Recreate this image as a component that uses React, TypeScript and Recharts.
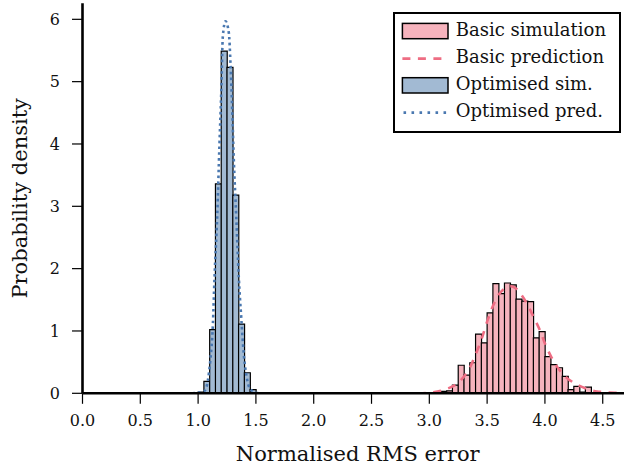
import React from 'react';
import { ComposedChart, Bar, Line, XAxis, YAxis, Legend } from 'recharts';

// Histogram bins (centres) and densities
const optBinCenters = [1.025, 1.075, 1.125, 1.175, 1.225, 1.275, 1.325, 1.375, 1.425, 1.475];
const optDensity = [0.02, 0.19, 1.02, 3.36, 5.49, 5.23, 3.18, 1.11, 0.33, 0.06];

const basicBinCenters = [
  3.075, 3.125, 3.175, 3.225, 3.275, 3.325, 3.375, 3.425, 3.475, 3.525,
  3.575, 3.625, 3.675, 3.725, 3.775, 3.825, 3.875, 3.925, 3.975, 4.025,
  4.075, 4.125, 4.175, 4.225, 4.275, 4.325, 4.375,
];
const basicDensity = [
  0.01, 0.03, 0.04, 0.13, 0.45, 0.29, 0.49, 0.95, 0.81, 1.29,
  1.76, 1.6, 1.77, 1.74, 1.51, 1.48, 1.47, 0.89, 0.99, 0.59,
  0.46, 0.41, 0.27, 0.06, 0.11, 0.02, 0.1,
];

// Predicted densities
const optPredX = [0.95, 1.0, 1.055, 1.084, 1.105, 1.128, 1.142, 1.165, 1.185, 1.2, 1.214, 1.237, 1.266, 1.28, 1.295, 1.309, 1.33, 1.352, 1.373, 1.395, 1.421, 1.45, 1.5, 1.55];
const optPredY = [0.0, 0.01, 0.04, 0.2, 0.52, 1.11, 1.86, 2.83, 4.01, 4.82, 5.73, 5.97, 5.78, 5.3, 4.55, 3.74, 2.83, 1.86, 1.22, 0.63, 0.25, 0.07, 0.01, 0.0];

const basicPredX = [2.9, 3.0, 3.1, 3.15, 3.2, 3.25, 3.3, 3.35, 3.4, 3.45, 3.5, 3.55, 3.6, 3.65, 3.7, 3.75, 3.8, 3.85, 3.9, 3.95, 4.0, 4.05, 4.1, 4.15, 4.2, 4.25, 4.3, 4.35, 4.4, 4.45, 4.5, 4.6, 4.68];
const basicPredY = [0.0, 0.01, 0.04, 0.07, 0.11, 0.17, 0.27, 0.41, 0.62, 0.86, 1.15, 1.4, 1.58, 1.68, 1.72, 1.68, 1.57, 1.42, 1.23, 1.04, 0.8, 0.6, 0.44, 0.32, 0.23, 0.17, 0.12, 0.08, 0.05, 0.03, 0.02, 0.01, 0.0];

const xTicks = [0, 0.5, 1.0, 1.5, 2.0, 2.5, 3.0, 3.5, 4.0, 4.5];
const yTicks = [0, 1, 2, 3, 4, 5, 6];

const legendLabels = ['Basic simulation', 'Basic prediction', 'Optimised sim.', 'Optimised pred.'];

const histRows = [
  ...optBinCenters.map((x, i) => ({ x, opt: optDensity[i], basic: null as number | null })),
  ...basicBinCenters.map((x, i) => ({ x, opt: null as number | null, basic: basicDensity[i] })),
];
const optPredRows = optPredX.map((x, i) => ({ x, y: optPredY[i] }));
const basicPredRows = basicPredX.map((x, i) => ({ x, y: basicPredY[i] }));

const X_DOMAIN: [number, number] = [0, 4.684];
const FONT = 'DejaVu Serif';
const PINK = '#F6B3BD';
const PINK_LINE = '#EE6D83';
const BLUE = '#A2BAD3';
const BLUE_LINE = '#4A78B0';

const renderLegend = () => {
  const rows = [19, 46.6, 73.3, 100.6];
  return (
    <svg width={228} height={121} style={{ display: 'block' }}>
      <rect x={1} y={1} width={226} height={119} fill="#fff" stroke="#000" strokeWidth={2} />
      <rect x={9.4} y={rows[0] - 7.6} width={45.6} height={15.3} fill={PINK} stroke="#000" strokeWidth={1.5} />
      <line x1={9.4} x2={55} y1={rows[1]} y2={rows[1]} stroke={PINK_LINE} strokeWidth={2.6} strokeDasharray="8 7.5" />
      <rect x={9.4} y={rows[2] - 7.6} width={45.6} height={15.3} fill={BLUE} stroke="#000" strokeWidth={1.5} />
      <line x1={10.5} x2={55} y1={rows[3]} y2={rows[3]} stroke={BLUE_LINE} strokeWidth={2.6} strokeDasharray="2.6 5.4" />
      {legendLabels.map((t, i) => (
        <text key={t} x={62.7} y={rows[i] + 4.5} fontFamily={FONT} fontSize={18} fill="#111">
          {t}
        </text>
      ))}
    </svg>
  );
};

const XLabel = (props: any) => {
  const vb = props.viewBox || { x: 82.5, y: 393.3, width: 541.5, height: 72.7 };
  return (
    <text x={vb.x + vb.width / 2 + 4.5} y={461} textAnchor="middle" fontFamily={FONT} fontSize={21} fill="#111">
      Normalised RMS error
    </text>
  );
};

const YLabel = (props: any) => {
  const vb = props.viewBox || { x: 0, y: 3.3, width: 82.5, height: 390 };
  const x = 27;
  const y = vb.y + vb.height / 2;
  return (
    <text x={x} y={y} transform={`rotate(-90, ${x}, ${y})`} textAnchor="middle" fontFamily={FONT} fontSize={21} fill="#111">
      Probability density
    </text>
  );
};

export default function App() {
  return (
    <div style={{ position: 'absolute', left: 0, top: 0, width: 624, height: 466, background: '#fff' }}>
      <ComposedChart
        width={624}
        height={466}
        data={histRows}
        margin={{ top: 3.3, right: 0, bottom: 0, left: 0 }}
        barCategoryGap={0}
        barGap={0}
      >
        <XAxis
          xAxisId="hist"
          type="number"
          dataKey="x"
          domain={X_DOMAIN}
          allowDataOverflow
          height={0}
          hide
        />
        <XAxis
          xAxisId="main"
          type="number"
          dataKey="x"
          domain={X_DOMAIN}
          allowDataOverflow
          ticks={xTicks}
          interval={0}
          tickFormatter={(v: number) => v.toFixed(1)}
          height={72.7}
          tickSize={10.5}
          tickMargin={11}
          tick={{ fontFamily: FONT, fontSize: 16, fill: '#111' }}
          tickLine={{ stroke: '#000', strokeWidth: 1.2 }}
          axisLine={{ stroke: '#000', strokeWidth: 2.6 }}
          label={<XLabel />}
        />
        <YAxis
          type="number"
          domain={[0, 6.257]}
          allowDataOverflow
          ticks={yTicks}
          interval={0}
          width={82.5}
          tickSize={10.5}
          tickMargin={12}
          tick={{ fontFamily: FONT, fontSize: 16, fill: '#111' }}
          tickLine={{ stroke: '#000', strokeWidth: 1.2 }}
          axisLine={{ stroke: '#000', strokeWidth: 2.6 }}
          label={<YLabel />}
        />
        <Legend
          layout="vertical"
          align="center"
          verticalAlign="middle"
          content={renderLegend}
          wrapperStyle={{ position: 'absolute', left: 392.5, top: 12, width: 228, height: 121 }}
        />
        <Bar xAxisId="hist" dataKey="basic" stackId="h" fill={PINK} stroke="#000" strokeWidth={1.2} isAnimationActive={false} />
        <Bar xAxisId="hist" dataKey="opt" stackId="h" fill={BLUE} stroke="#000" strokeWidth={1.2} isAnimationActive={false} />
        <Line
          xAxisId="main"
          data={basicPredRows}
          dataKey="y"
          type="monotone"
          stroke={PINK_LINE}
          strokeWidth={2.6}
          strokeDasharray="8 7.5"
          dot={false}
          activeDot={false}
          isAnimationActive={false}
        />
        <Line
          xAxisId="main"
          data={optPredRows}
          dataKey="y"
          type="monotone"
          stroke={BLUE_LINE}
          strokeWidth={2.6}
          strokeDasharray="2.6 3.2"
          dot={false}
          activeDot={false}
          isAnimationActive={false}
        />
      </ComposedChart>
    </div>
  );
}
